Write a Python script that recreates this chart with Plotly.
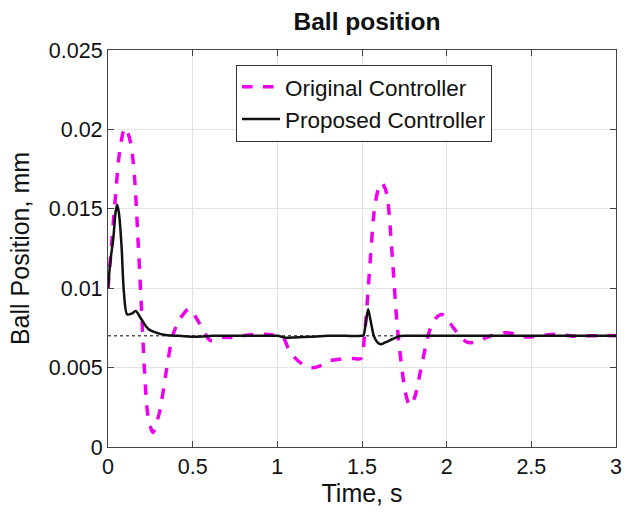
import plotly.graph_objects as go

# Original controller (magenta dashed)
t_orig = [0, 0.02, 0.041, 0.07, 0.099, 0.12, 0.138, 0.158, 0.177, 0.197, 0.216, 0.236, 0.265,
          0.304, 0.343, 0.382, 0.421, 0.48, 0.538, 0.606, 0.674, 0.73, 0.83, 0.93, 1.0, 1.035,
          1.065, 1.103, 1.15, 1.2, 1.25, 1.298, 1.35, 1.396, 1.45, 1.493, 1.516, 1.545, 1.571,
          1.595, 1.614, 1.632, 1.649, 1.68, 1.708, 1.735, 1.756, 1.782, 1.81, 1.844, 1.875,
          1.902, 1.935, 1.971, 2.0, 2.04, 2.078, 2.12, 2.156, 2.2, 2.234, 2.29, 2.351, 2.41,
          2.468, 2.55, 2.65, 2.75, 2.85, 2.95, 3.0]
y_orig = [0.0100, 0.0126, 0.0154, 0.0187, 0.0201, 0.0197, 0.0189, 0.0168, 0.0131, 0.00888, 0.00469,
          0.00197, 0.00092, 0.00218, 0.00469, 0.0070, 0.0080, 0.0087, 0.00783, 0.0067, 0.0069,
          0.0069, 0.00706, 0.0071, 0.0070, 0.00689, 0.0062, 0.00563, 0.0052, 0.0050, 0.0051,
          0.00542, 0.0055, 0.00557, 0.00557, 0.00557, 0.0072, 0.0112, 0.01474, 0.0162, 0.01663,
          0.0164, 0.01579, 0.0118, 0.00762, 0.0050, 0.00344, 0.0026, 0.0031, 0.0047, 0.0063,
          0.0074, 0.0081, 0.00835, 0.0081, 0.0075, 0.0070, 0.0066, 0.00658, 0.0067, 0.00689,
          0.0071, 0.0072, 0.0071, 0.00693, 0.0070, 0.0071, 0.00698, 0.0070, 0.00702, 0.0070]

# Proposed controller (black solid)
t_prop = [0, 0.015, 0.031, 0.045, 0.054, 0.065, 0.08, 0.094, 0.113, 0.14, 0.164, 0.197, 0.236,
          0.285, 0.34, 0.42, 0.52, 0.62, 0.75, 0.9, 1.0, 1.05, 1.1, 1.2, 1.3, 1.4, 1.5, 1.509,
          1.522, 1.536, 1.55, 1.57, 1.59, 1.61, 1.64, 1.68, 1.725, 1.8, 1.9, 2.0, 2.2, 2.5, 2.8, 3.0]
y_prop = [0.0100, 0.0118, 0.0131, 0.0148, 0.01526, 0.0147, 0.01265, 0.00973, 0.00835, 0.0084,
          0.00856, 0.00804, 0.00745, 0.0072, 0.00705, 0.0070, 0.00694, 0.0070, 0.0070, 0.0070,
          0.0070, 0.00688, 0.0069, 0.00695, 0.0070, 0.0070, 0.0070, 0.00703, 0.0078, 0.00867,
          0.0080, 0.0070, 0.0066, 0.00647, 0.0066, 0.0068, 0.00699, 0.0070, 0.0070, 0.0070,
          0.0070, 0.0070, 0.0070, 0.0070]

# Set-point reference
t_ref = [0, 3]
y_ref = [0.007, 0.007]

x_ticks = [0, 0.5, 1, 1.5, 2, 2.5, 3]
x_labels = ["0", "0.5", "1", "1.5", "2", "2.5", "3"]
y_ticks = [0, 0.005, 0.01, 0.015, 0.02, 0.025]
y_labels = ["0", "0.005", "0.01", "0.015", "0.02", "0.025"]

FONT = "Liberation Sans, Arial, sans-serif"

fig = go.Figure()
fig.add_trace(go.Scatter(x=t_ref, y=y_ref, mode="lines", showlegend=False,
                         line=dict(color="#555555", width=1.5, dash="dot")))
fig.add_trace(go.Scatter(x=t_orig, y=y_orig, mode="lines", name="Original Controller",
                         line=dict(color="#ee00ee", width=3.5, dash="dash", shape="spline", smoothing=0.8)))
fig.add_trace(go.Scatter(x=t_prop, y=y_prop, mode="lines", name="Proposed Controller",
                         line=dict(color="#111111", width=2.5, shape="spline", smoothing=0.8)))

axis_common = dict(showgrid=True, gridcolor="#e3e3e3", gridwidth=1, zeroline=False,
                   showline=True, linecolor="#444444", linewidth=1.2, mirror="allticks",
                   ticks="inside", ticklen=6, tickcolor="#444444",
                   tickfont=dict(family=FONT, size=21.5, color="#111111"))

fig.update_layout(
    width=629, height=516,
    margin=dict(l=108, r=7, t=50, b=69),
    paper_bgcolor="white", plot_bgcolor="white",
    title=dict(text="<b>Ball position</b>", x=367 / 629, xanchor="center",
               y=1 - 21 / 516, yanchor="middle",
               font=dict(family=FONT, size=24.5, color="#111111")),
    legend=dict(x=0.252, y=0.963, xanchor="left", yanchor="top",
                bgcolor="white", bordercolor="#333333", borderwidth=1,
                font=dict(family=FONT, size=22.5, color="#111111"),
                tracegroupgap=0, itemwidth=38),
    xaxis=dict(range=[0, 3], tickvals=x_ticks, ticktext=x_labels,
               title=dict(text="Time, s", font=dict(family=FONT, size=25, color="#111111"), standoff=6),
               **axis_common),
    yaxis=dict(range=[0, 0.025], tickvals=y_ticks, ticktext=y_labels,
               title=dict(text="Ball Position, mm", font=dict(family=FONT, size=25, color="#111111"), standoff=12),
               **axis_common),
)

fig.write_html("out.html")
